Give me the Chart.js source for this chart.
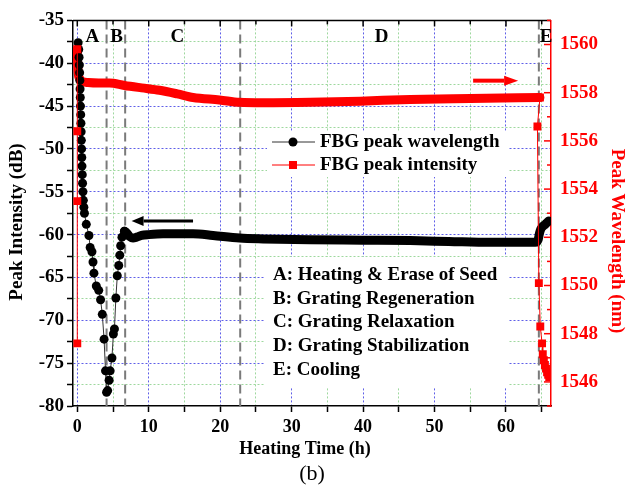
<!DOCTYPE html>
<html>
<head>
<meta charset="utf-8">
<script src="https://cdn.jsdelivr.net/npm/chart.js@4.4.1/dist/chart.umd.min.js"></script>
<style>
  body { margin: 0; background: #fff; }
  #wrap { width: 626px; height: 487px; }
</style>
</head>
<body>
<div id="wrap"><canvas id="chart" width="626" height="487"></canvas></div>
<script>
// black circles, stages A and B (left axis, dB)
const dotTime = [0.12, 0.2, 0.25, 0.29, 0.33, 0.36, 0.39, 0.42, 0.45, 0.48, 0.51, 0.54, 0.57, 0.6, 0.63, 0.66, 0.7, 0.74, 0.79, 0.85, 0.92, 1.0,
  1.26, 1.63, 1.8, 2.05, 2.2, 2.33, 2.66, 3.0, 3.26, 3.5, 3.75, 3.95, 4.1, 4.25, 4.45, 4.6, 4.85, 5.05, 5.2, 5.4, 5.6, 5.8, 5.95, 6.07, 6.25, 6.6];
const dotIntensity = [-37.6, -38.4, -39.3, -40.2, -41.1, -42.0, -43.0, -44.0, -45.0, -46.0, -47.0, -48.0, -49.0, -50.0, -51.0, -52.0, -53.0, -54.0, -55.0, -56.0, -56.8, -57.5,
  -58.8, -60.1, -61.5, -62.0, -63.2, -64.5, -66.0, -66.5, -67.6, -69.3, -72.2, -75.9, -78.4, -78.2, -77.0, -75.9, -74.4, -71.6, -71.0, -67.4, -64.8, -63.6, -62.4, -61.3, -60.3, -59.6];
// dense black trace after regeneration
const traceTime = [6.6, 6.9, 7.3, 7.8, 8.3, 9, 10, 12, 14, 16.2, 19, 22.7, 26, 32.6, 40, 46.6, 52, 57.8, 64.1, 64.5, 64.7, 64.9, 65.2, 65.5, 65.8, 66.0];
const traceIntensity = [-59.6, -59.8, -60.2, -60.4, -60.3, -60.1, -60.0, -59.9, -59.9, -59.9, -60.1, -60.4, -60.5, -60.6, -60.65, -60.7, -60.8, -60.9, -60.9, -60.6, -59.8, -59.3, -59.0, -58.8, -58.55, -58.4];
// red squares (right axis, nm)
const startTime = [0, 0, 0, 0];
const startWavelength = [1547.6, 1553.5, 1556.4, 1559.8];
const endTime = [64.75, 64.4, 64.6, 64.8, 65.05, 65.15, 65.3, 65.45, 65.6, 65.75, 65.9, 66.05];
const endWavelength = [1557.8, 1556.6, 1550.1, 1548.3, 1547.6, 1547.15, 1546.9, 1546.7, 1546.55, 1546.4, 1546.3, 1546.2];
// dense red trace
const bandTime = [0, 0.03, 0.08, 0.15, 0.3, 0.5, 0.8, 1.5, 3, 4.5, 6.6, 9, 11.5, 14, 16.2, 19.9, 22.7, 26, 32.6, 39.6, 46.6, 55, 64.75];
const bandWavelength = [1559.8, 1559.4, 1559.0, 1558.75, 1558.6, 1558.5, 1558.45, 1558.42, 1558.4, 1558.4, 1558.3, 1558.2, 1558.1, 1557.95, 1557.8, 1557.7, 1557.6, 1557.58, 1557.6, 1557.65, 1557.72, 1557.76, 1557.8];

const phaseBounds = [4.1, 6.7, 22.8, 64.6];
const phaseNames = ['A', 'B', 'C', 'D', 'E'];
const phaseNameTime = [2.1, 5.5, 14, 42.6, 65.6];
const stageNotes = [
  'A: Heating & Erase of Seed',
  'B: Grating Regeneration',
  'C: Grating Relaxation',
  'D: Grating Stabilization',
  'E: Cooling'
];
const legendNames = ['FBG peak wavelength', 'FBG peak intensity'];

const pts = (xs, ys) => xs.map((t, i) => ({ x: t, y: ys[i] }));
const FONT = '"Liberation Serif", "Times New Roman", serif';
const BLUE = '#5f5fe8';
const GREEN = '#9ed89e';

Chart.defaults.font.family = FONT;
Chart.defaults.font.weight = 'bold';
Chart.defaults.font.size = 19;

function arrow(ctx, x1, x2, y, color, w, headL, headW) {
  const dir = Math.sign(x2 - x1);
  ctx.strokeStyle = color;
  ctx.fillStyle = color;
  ctx.lineWidth = w;
  ctx.beginPath();
  ctx.moveTo(x1, y);
  ctx.lineTo(x2 - dir * headL, y);
  ctx.stroke();
  ctx.beginPath();
  ctx.moveTo(x2, y);
  ctx.lineTo(x2 - dir * headL, y - headW);
  ctx.lineTo(x2 - dir * headL, y + headW);
  ctx.closePath();
  ctx.fill();
}

// grid colour: blue on labelled ticks, pale green in between, nothing on the frame
const gridColor = (major, min, max) => c => {
  const v = c.tick ? c.tick.value : NaN;
  if (Math.abs(v - min) < 1e-6 || Math.abs(v - max) < 1e-6) return 'rgba(0,0,0,0)';
  return Math.abs(v % major) < 1e-6 ? BLUE : GREEN;
};

const overlay = {
  id: 'overlay',
  beforeDatasetsDraw(chart) {
    const { ctx, chartArea: a, scales: { x } } = chart;
    ctx.save();
    ctx.fillStyle = '#fff';
    ctx.fillRect(267, 132, 241, 45);
    ctx.fillRect(265, 257, 243, 131);
    ctx.strokeStyle = '#7a7a7a';
    ctx.lineWidth = 2;
    ctx.setLineDash([9, 5]);
    phaseBounds.forEach(t => {
      const px = x.getPixelForValue(t);
      ctx.beginPath();
      ctx.moveTo(px, a.top);
      ctx.lineTo(px, a.bottom);
      ctx.stroke();
    });
    ctx.restore();
  },
  afterDatasetsDraw(chart) {
    const { ctx, chartArea: a, scales: { x, y, y2 } } = chart;
    ctx.save();
    // top frame + inward ticks
    ctx.strokeStyle = '#000';
    ctx.lineWidth = 1.5;
    ctx.beginPath();
    ctx.moveTo(a.left, a.top);
    ctx.lineTo(a.right, a.top);
    ctx.stroke();
    for (let t = 0; t <= 65; t += 5) {
      const px = x.getPixelForValue(t);
      ctx.beginPath();
      ctx.moveTo(px, a.top);
      ctx.lineTo(px, a.top + (t % 10 === 0 ? 6 : 4));
      ctx.stroke();
    }
    // right inward ticks
    ctx.strokeStyle = '#ff0000';
    for (let v = 1545; v <= 1561; v++) {
      const py = y2.getPixelForValue(v);
      ctx.beginPath();
      ctx.moveTo(a.right, py);
      ctx.lineTo(a.right - (v % 2 === 0 ? 7 : 4), py);
      ctx.stroke();
    }
    // arrows
    arrow(ctx, x.getPixelForValue(16.2), x.getPixelForValue(7.6), y.getPixelForValue(-58.4), '#000', 3, 12, 5);
    arrow(ctx, x.getPixelForValue(55.4), x.getPixelForValue(61.7), y2.getPixelForValue(1558.5), '#ff0000', 4, 14, 5);

    // phase letters
    ctx.fillStyle = '#000';
    ctx.font = 'bold 19px ' + FONT;
    ctx.textAlign = 'center';
    ctx.textBaseline = 'middle';
    phaseNames.forEach((n, i) => ctx.fillText(n, x.getPixelForValue(phaseNameTime[i]), y.getPixelForValue(-37)));

    // legend
    ctx.lineWidth = 1;
    ctx.strokeStyle = '#333';
    ctx.beginPath(); ctx.moveTo(272, 142); ctx.lineTo(315, 142); ctx.stroke();
    ctx.beginPath(); ctx.arc(293, 142, 4.5, 0, Math.PI * 2); ctx.fill();
    ctx.strokeStyle = '#ff0000';
    ctx.beginPath(); ctx.moveTo(272, 165); ctx.lineTo(315, 165); ctx.stroke();
    ctx.fillStyle = '#ff0000';
    ctx.fillRect(289, 161, 8, 8);
    ctx.fillStyle = '#000';
    ctx.textAlign = 'left';
    ctx.fillText(legendNames[0], 320, 142);
    ctx.fillText(legendNames[1], 320, 165);

    // stage notes
    stageNotes.forEach((s, i) => ctx.fillText(s, 273, 275 + i * 23.7));

    // axis titles
    ctx.textAlign = 'center';
    ctx.font = 'bold 18px ' + FONT;
    ctx.fillText('Heating Time (h)', 305, 449);
    ctx.font = '22px ' + FONT;
    ctx.fillText('(b)', 312, 474);
    ctx.font = 'bold 19px ' + FONT;
    ctx.save();
    ctx.translate(17, 222);
    ctx.rotate(-Math.PI / 2);
    ctx.fillText('Peak Intensity (dB)', 0, 0);
    ctx.restore();
    ctx.save();
    ctx.fillStyle = '#ff0000';
    ctx.translate(617, 241);
    ctx.rotate(Math.PI / 2);
    ctx.fillText('Peak Wavelength (nm)', 0, 0);
    ctx.restore();
    ctx.restore();
  }
};

new Chart(document.getElementById('chart').getContext('2d'), {
  type: 'line',
  data: {
    datasets: [{
      label: 'red trace',
      yAxisID: 'y2',
      data: pts(bandTime, bandWavelength),
      borderColor: '#ff0000',
      borderWidth: 9,
      pointRadius: 0,
      cubicInterpolationMode: 'monotone',
      borderCapStyle: 'round',
      borderJoinStyle: 'round',
      order: 4
    }, {
      label: 'black trace',
      yAxisID: 'y',
      data: pts(traceTime, traceIntensity),
      borderColor: '#000',
      borderWidth: 9,
      pointRadius: 0,
      cubicInterpolationMode: 'monotone',
      borderCapStyle: 'round',
      borderJoinStyle: 'round',
      order: 3
    }, {
      label: legendNames[0],
      yAxisID: 'y',
      data: pts(dotTime, dotIntensity),
      borderColor: '#333',
      borderWidth: 1,
      pointBackgroundColor: '#000',
      pointBorderWidth: 0,
      pointRadius: 4.5,
      order: 2
    }, {
      label: legendNames[1],
      yAxisID: 'y2',
      data: pts(startTime, startWavelength),
      borderColor: '#ff0000',
      borderWidth: 1,
      pointStyle: 'rect',
      pointBackgroundColor: '#ff0000',
      pointBorderWidth: 0,
      pointRadius: 5.6,
      order: 1
    }, {
      label: 'cooling',
      yAxisID: 'y2',
      data: pts(endTime, endWavelength),
      borderColor: '#ff0000',
      borderWidth: 1,
      pointStyle: 'rect',
      pointBackgroundColor: '#ff0000',
      pointBorderWidth: 0,
      pointRadius: 5.6,
      order: 1
    }]
  },
  options: {
    responsive: false,
    animation: false,
    layout: { padding: { top: 15, left: 0, right: 0, bottom: 0 } },
    plugins: { legend: { display: false }, tooltip: { enabled: false } },
    scales: {
      x: {
        type: 'linear',
        position: 'bottom',
        min: -0.6,
        max: 66.3,
        afterFit: s => { s.height = 81; },
        ticks: {
          stepSize: 5,
          includeBounds: false,
          autoSkip: false,
          maxRotation: 0,
          padding: 5,
          color: '#000',
          font: { size: 18, weight: 'bold' },
          callback: v => (v % 10 === 0 ? v : '')
        },
        grid: { color: gridColor(10, -0.6, 66.3), lineWidth: 1, tickColor: '#000', tickLength: 6, tickWidth: 1.5 },
        border: { color: '#000', width: 1.5, dash: [2, 2] }
      },
      y: {
        type: 'linear',
        position: 'left',
        min: -80,
        max: -35,
        afterFit: s => { s.width = 73; },
        ticks: {
          stepSize: 2.5,
          includeBounds: false,
          autoSkip: false,
          padding: 3,
          color: '#000',
          font: { size: 19, weight: 'bold' },
          callback: v => (v % 5 === 0 ? v : '')
        },
        grid: { color: gridColor(5, -80, -35), lineWidth: 1, tickColor: '#000', tickLength: 6, tickWidth: 1.5 },
        border: { color: '#000', width: 1.5, dash: [2, 2] }
      },
      y2: {
        type: 'linear',
        position: 'right',
        min: 1545,
        max: 1561,
        afterFit: s => { s.width = 75; },
        ticks: {
          stepSize: 1,
          includeBounds: false,
          autoSkip: false,
          padding: 9,
          color: '#ff0000',
          font: { size: 19, weight: 'bold' },
          callback: v => (v % 2 === 0 ? String(v) : '')
        },
        grid: { drawOnChartArea: false, drawTicks: false },
        border: { color: '#ff0000', width: 1.5 }
      }
    }
  },
  plugins: [overlay]
});
</script>
</body>
</html>
